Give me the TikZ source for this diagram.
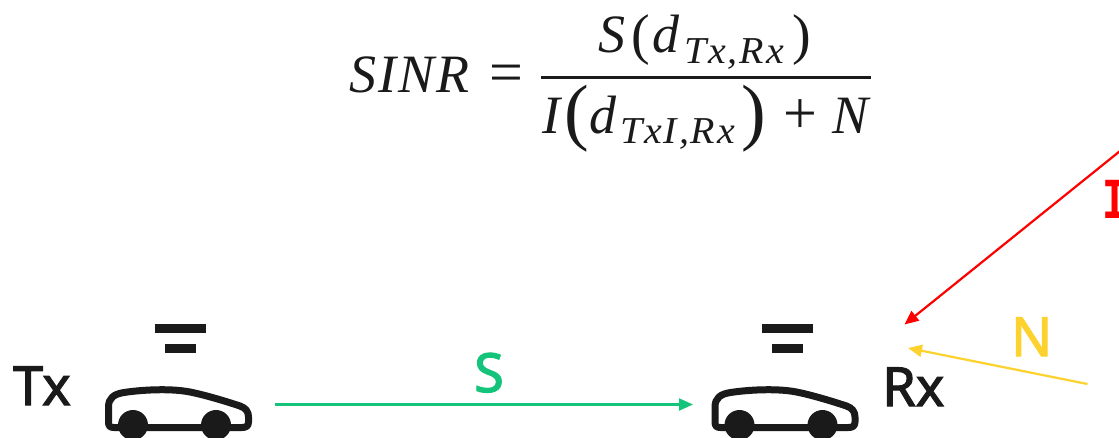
\documentclass[tikz,border=0pt]{standalone}
\usepackage{fontspec}
\setmainfont{Liberation Serif}
\newfontfamily\labfont[FakeBold=2]{Noto Sans}
\newfontfamily\monofont[BoldFont={Liberation Mono Bold},BoldFeatures={FakeStretch=0.72}]{Liberation Mono}
\usetikzlibrary{arrows.meta}
\definecolor{ink}{HTML}{1A1A1A}
\definecolor{sgreen}{HTML}{14C47A}
\definecolor{nyellow}{HTML}{FDD22F}
\definecolor{ired}{HTML}{FF0000}
\tikzset{
  x=1pt,y=-1pt,
  lab/.style={inner sep=0pt,font=\labfont\fontsize{54}{54}\selectfont,anchor=base west},
  fbig/.style={inner sep=0pt,text=ink,anchor=base west,font=\fontsize{54}{54}\selectfont\itshape},
  fsub/.style={inner sep=0pt,text=ink,anchor=base west,font=\fontsize{38}{38}\selectfont\itshape\addfontfeature{FakeStretch=1.05,LetterSpace=5}},
  fpar/.style={inner sep=0pt,text=ink,anchor=base west,font=\fontsize{56}{56}\selectfont},
  fop/.style={inner sep=0pt,text=ink,anchor=base west,font=\fontsize{60}{60}\selectfont},
  fbigpar/.style={inner sep=0pt,text=ink,anchor=base west,font=\fontsize{74}{74}\selectfont},
  link/.style={line width=2.2pt,-{Triangle[length=14pt,width=12pt]}},
  pics/car/.style={code={
    \fill[ink] (133,425) circle (15);
    \fill[ink] (216,425) circle (15);
    \draw[ink,line width=7pt,line join=round]
      (120,427.5) -- (114,427.5) .. controls (110,427.5) and (108.5,426) .. (108.5,422)
      -- (108.5,407) .. controls (108.5,398) and (114,394) .. (124,392.5)
      .. controls (140,390) and (170,388) .. (190,392)
      .. controls (205,395) and (225,401) .. (240,406)
      .. controls (246,408) and (248.5,412) .. (248.5,417)
      -- (248.5,422) .. controls (248.5,426) and (246,427.5) .. (242,427.5) -- (120,427.5);
    \fill[ink] (155,324) rectangle (206,333);
    \fill[ink] (165,344) rectangle (196,353);
  }}
}
\begin{document}
\begin{tikzpicture}
\useasboundingbox (0,0) rectangle (1119,437);
\clip (0,0) rectangle (1119,437);
\fill[white] (0,0) rectangle (1119,437);
% formula
\node[fbig] (sinr) at (349,92) {S\kern2pt I\kern2pt N\kern2pt R};
\node[fop] (eq) at (489,92) {=};
\node[fbig] (ns) at (598,52) {S};
\node[fpar] (nl) at (631,53) {(};
\node[fbig] (nd) at (652,52) {d};
\node[fsub] (nsub) at (684,63) {Tx,Rx};
\node[fpar] (nr) at (792,53) {)};
\draw[ink,line width=3pt] (541,77) -- (871,77);
\node[fbig] (di) at (542,133) {I};
\node[fbigpar] (dl) at (564,136) {(};
\node[fbig] (dd) at (589,133) {d};
\node[fsub] (dsub) at (620,143) {TxI,Rx};
\node[fbigpar] (dr) at (741,136) {)};
\node[fop] (plus) at (783,133) {+};
\node[fbig] (dn) at (832,133) {N};
% cars
\pic (txcar) at (0,0) {car};
\pic (rxcar) at (606.5,0) {car};
% labels
\node[lab,text=ink] (tx) at (13,405) {Tx};
\node[lab,text=ink] (rx) at (882,406) {Rx};
\node[lab,text=sgreen] (s) at (474,392) {S};
\node[lab,text=nyellow] (n) at (1011,356) {N};
\node[inner sep=0pt,anchor=base west,text=ired,font=\monofont\bfseries\fontsize{58}{58}\selectfont] (i) at (1102,218) {I};
% connectors
\coordinate (sa) at (275,404.5);
\coordinate (sb) at (693,404.5);
\coordinate (ia) at (1125,147);
\coordinate (ib) at (904.5,324.5);
\coordinate (na) at (1087.5,384);
\coordinate (nb) at (908,348);
\draw[link,sgreen] (sa) -- (sb);
\draw[link,ired] (ia) -- (ib);
\draw[link,nyellow] (na) -- (nb);
\end{tikzpicture}
\end{document}
